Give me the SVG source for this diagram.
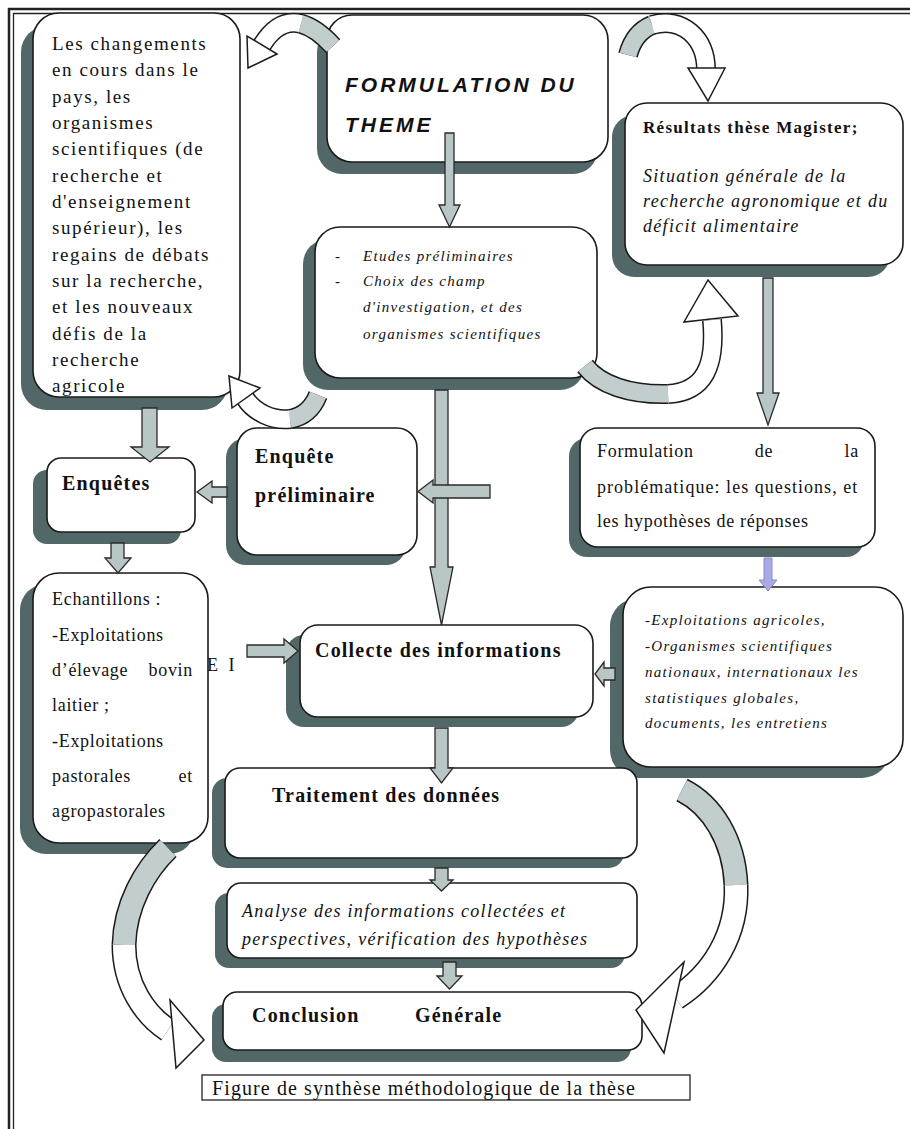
<svg xmlns="http://www.w3.org/2000/svg" width="910" height="1129" viewBox="0 0 910 1129">
<style>
.sh{fill:#526868}
.bx{fill:#fff;stroke:#1a1a1a;stroke-width:1.6}
.ar{fill:#b9c6c6;stroke:#2a2a2a;stroke-width:1.3;stroke-linejoin:miter}
.arl{fill:#a9a9e6;stroke:#8a8ac8;stroke-width:1}
.bo{fill:none;stroke:#1c1c1c;stroke-width:20}
.bg{fill:none;stroke:#c2cdcd;stroke-width:17}
.bw{fill:none;stroke:#fff;stroke-width:17}
.bo2{fill:none;stroke:#1c1c1c;stroke-width:25}
.bg2{fill:none;stroke:#c2cdcd;stroke-width:22}
.bw2{fill:none;stroke:#fff;stroke-width:22}
.hw{fill:#fff;stroke:#1c1c1c;stroke-width:1.5;stroke-linejoin:miter}
.s{font-family:"Liberation Serif","Times New Roman",serif;fill:#111}
.a{font-size:19px;letter-spacing:1.6px}
.g{font-size:18px;letter-spacing:0.7px}
.b{font-size:20px;font-weight:bold;letter-spacing:1.2px}
.i15{font-size:15px;font-style:italic;letter-spacing:1.3px}
.i18{font-size:18px;font-style:italic;letter-spacing:1.3px}
.ti{font-family:"Liberation Sans",Arial,sans-serif;font-size:21px;font-style:italic;font-weight:bold;letter-spacing:3px;fill:#111}
</style>
<rect width="910" height="1129" fill="#fff"/>
<g id="frame" fill="none" stroke="#222">
<path d="M9 1140 V9 H920" stroke-width="2.5"/>
<path d="M13.5 1140 V13.5 H920" stroke-width="1.3"/>
</g>

<g id="node-changements">
<rect class="sh" x="21" y="26" width="207" height="384" rx="26"/>
<rect class="bx" x="33" y="13" width="207" height="384" rx="26"/>
<text class="s a" x="52" y="50">Les changements</text>
<text class="s a" x="52" y="76">en cours dans le</text>
<text class="s a" x="52" y="103">pays, les</text>
<text class="s a" x="52" y="129">organismes</text>
<text class="s a" x="52" y="155">scientifiques (de</text>
<text class="s a" x="52" y="182">recherche et</text>
<text class="s a" x="52" y="208">d'enseignement</text>
<text class="s a" x="52" y="234">supérieur), les</text>
<text class="s a" x="52" y="261">regains de débats</text>
<text class="s a" x="52" y="287">sur la recherche,</text>
<text class="s a" x="52" y="313">et les nouveaux</text>
<text class="s a" x="52" y="340">défis de la</text>
<text class="s a" x="52" y="366">recherche</text>
<text class="s a" x="52" y="392">agricole</text>
</g>

<g id="node-formulation">
<rect class="sh" x="317" y="27" width="281" height="147" rx="25"/>
<rect class="bx" x="327" y="15" width="281" height="147" rx="25"/>
<text class="ti" x="345" y="92">FORMULATION DU</text>
<text class="ti" x="345" y="132">THEME</text>
</g>

<g id="node-etudes">
<rect class="sh" x="303" y="239" width="282" height="151" rx="25"/>
<rect class="bx" x="315" y="227" width="282" height="151" rx="25"/>
<text class="s i15" x="335" y="261">-</text>
<text class="s i15" x="335" y="286">-</text>
<text class="s i15" x="363" y="261">Etudes préliminaires</text>
<text class="s i15" x="363" y="286">Choix des champ</text>
<text class="s i15" x="363" y="312">d'investigation, et des</text>
<text class="s i15" x="363" y="339">organismes scientifiques</text>
</g>

<g id="node-magister">
<rect class="sh" x="612" y="115" width="278" height="162" rx="22"/>
<rect class="bx" x="625" y="103" width="278" height="162" rx="22"/>
<text class="s" x="643" y="133" font-size="17" font-weight="bold" letter-spacing="1.3">Résultats thèse Magister;</text>
<text class="s i18" x="643" y="182" letter-spacing="1.4">Situation générale de la</text>
<text class="s i18" x="643" y="207" letter-spacing="1.4">recherche agronomique et du</text>
<text class="s i18" x="643" y="232" letter-spacing="1.4">déficit alimentaire</text>
</g>

<g id="node-enquetes">
<rect class="sh" x="33" y="470" width="148" height="74" rx="14"/>
<rect class="bx" x="47" y="458" width="148" height="74" rx="14"/>
<text class="s b" x="62" y="490">Enquêtes</text>
</g>

<g id="node-enquete-preliminaire">
<rect class="sh" x="226" y="438" width="180" height="127" rx="20"/>
<rect class="bx" x="237" y="428" width="180" height="127" rx="20"/>
<text class="s b" x="255" y="463">Enquête</text>
<text class="s b" x="255" y="502">préliminaire</text>
</g>

<g id="node-problematique">
<rect class="sh" x="569" y="438" width="295" height="119" rx="18"/>
<rect class="bx" x="580" y="428" width="295" height="119" rx="18"/>
<text class="s g" x="597" y="457" letter-spacing="0.8">Formulation</text>
<text class="s g" x="764" y="457" text-anchor="middle">de</text>
<text class="s g" x="859" y="457" text-anchor="end">la</text>
<text class="s g" x="597" y="493" textLength="261" lengthAdjust="spacing">problématique: les questions, et</text>
<text class="s g" x="597" y="527" letter-spacing="0.8">les hypothèses de réponses</text>
</g>

<g id="node-echantillons">
<rect class="sh" x="20" y="584" width="175" height="270" rx="26"/>
<rect class="bx" x="33" y="573" width="175" height="270" rx="26"/>
<text class="s g" x="52" y="605">Echantillons :</text>
<text class="s g" x="52" y="641">-Exploitations</text>
<text class="s g" x="52" y="676">d’élevage</text>
<text class="s g" x="193" y="676" text-anchor="end">bovin</text>
<text class="s g" x="52" y="711">laitier ;</text>
<text class="s g" x="52" y="747">-Exploitations</text>
<text class="s g" x="52" y="782">pastorales</text>
<text class="s g" x="193" y="782" text-anchor="end">et</text>
<text class="s g" x="52" y="817">agropastorales</text>
</g>

<g id="label-ei">
<text class="s" x="207" y="671" font-size="18" letter-spacing="3">E I</text>
</g>

<g id="node-collecte">
<rect class="sh" x="286" y="635" width="293" height="92" rx="18"/>
<rect class="bx" x="300" y="625" width="293" height="92" rx="18"/>
<text class="s b" x="315" y="657">Collecte des informations</text>
</g>

<g id="node-sources">
<rect class="sh" x="610" y="598" width="280" height="180" rx="28"/>
<rect class="bx" x="623" y="587" width="280" height="180" rx="28"/>
<text class="s i15" x="645" y="625" letter-spacing="1.6">-Exploitations agricoles,</text>
<text class="s i15" x="645" y="651" letter-spacing="1.6">-Organismes scientifiques</text>
<text class="s i15" x="645" y="677" letter-spacing="1.6">nationaux, internationaux les</text>
<text class="s i15" x="645" y="703" letter-spacing="1.6">statistiques globales,</text>
<text class="s i15" x="645" y="728" letter-spacing="1.6">documents, les entretiens</text>
</g>

<g id="node-traitement">
<rect class="sh" x="212" y="778" width="412" height="90" rx="15"/>
<rect class="bx" x="225" y="768" width="412" height="90" rx="15"/>
<text class="s b" x="272" y="802" letter-spacing="1.3">Traitement des données</text>
</g>

<g id="node-analyse">
<rect class="sh" x="215" y="893" width="410" height="75" rx="14"/>
<rect class="bx" x="227" y="883" width="410" height="75" rx="14"/>
<text class="s i18" x="242" y="917" letter-spacing="1.2">Analyse des informations collectées et</text>
<text class="s i18" x="242" y="945" letter-spacing="1.2">perspectives, vérification des hypothèses</text>
</g>

<g id="node-conclusion">
<rect class="sh" x="212" y="1004" width="419" height="58" rx="14"/>
<rect class="bx" x="223" y="992" width="419" height="58" rx="14"/>
<text class="s b" x="252" y="1022">Conclusion</text>
<text class="s b" x="415" y="1022">Générale</text>
</g>

<g id="caption">
<rect x="202" y="1075" width="488" height="25" fill="none" stroke="#222" stroke-width="1.3"/>
<text class="s" x="212" y="1095" font-size="20" letter-spacing="1.1">Figure de synthèse méthodologique de la thèse</text>
</g>

<g id="connectors">
<!-- straight block arrows -->
<polygon class="ar" points="445,133 454,133 454,205 460,205 449.5,227 439,205 445,205"/>
<polygon class="ar" points="142,408 157,408 157,447 169,447 150,462 131,447 142,447"/>
<polygon class="ar" points="111,543 124,543 124,558 131,558 118,573 105,558 111,558"/>
<polygon class="ar" points="227,487 212,487 212,481 197,492 212,503 212,497 227,497"/>
<polygon class="ar" points="435,390 448,390 448,567 453,567 441.5,625 430,567 435,567"/>
<polygon class="ar" points="490,485 433,485 433,480 418,491.5 433,503 433,498 490,498"/>
<polygon class="ar" points="763,278 773,278 773,393 779,393 768,425 757,393 763,393"/>
<polygon class="arl" points="764,558 772,558 772,580 777,580 768,591 759,580 764,580"/>
<polygon class="ar" points="615,668 604,668 604,662 595,674 604,686 604,680 615,680"/>
<polygon class="ar" points="247,645 284,645 284,639 298,651 284,663 284,657 247,657"/>
<polygon class="ar" points="435,728 448,728 448,768 453,768 441.5,783 430,768 435,768"/>
<polygon class="ar" points="435,868 448,868 448,880 453,880 441.5,891 430,880 435,880"/>
<polygon class="ar" points="443,962 456,962 456,976 462,976 449.5,989 437,976 443,976"/>
<!-- curved arrows -->
<g id="curve-theme-to-changements">
<path class="bo" d="M333 46 Q315.8 27.6 301 23.8"/>
<path class="bo" d="M301 23.8 Q278.8 18 262 45"/>
<path class="bg" d="M333 46 Q315.8 27.6 301 23.8"/>
<path class="bw" d="M301 23.8 Q278.8 18 262 45"/>
<polygon class="hw" points="277,54 248,68 247,36"/>
</g>
<g id="curve-etudes-to-changements">
<path class="bo" d="M318 395 C312 410 302 417 290 419"/>
<path class="bo" d="M290 419 C272 421 254 412 245 398"/>
<path class="bg" d="M318 395 C312 410 302 417 290 419"/>
<path class="bw" d="M290 419 C272 421 254 412 245 398"/>
<polygon class="hw" points="260,388 229,376 232,408"/>
</g>
<g id="curve-theme-to-magister">
<path class="bo" d="M628 55 C632 40 640 30 652 25"/>
<path class="bo" d="M652 25 C682 16 706 38 706 70"/>
<path class="bg" d="M628 55 C632 40 640 30 652 25"/>
<path class="bw" d="M652 25 C682 16 706 38 706 70"/>
<polygon class="hw" points="688,68 725,68 708,101"/>
</g>
<g id="curve-etudes-to-magister">
<path class="bo" d="M585 366 C600 385 630 395 668 394"/>
<path class="bo" d="M668 394 C705 392 716 365 712 320"/>
<path class="bg" d="M585 366 C600 385 630 395 668 394"/>
<path class="bw" d="M668 394 C705 392 716 365 712 320"/>
<polygon class="hw" points="684,322 708,280 738,316"/>
</g>
<g id="curve-echantillons-to-conclusion">
<path class="bo2" d="M168 848 C145 870 125 905 124 945"/>
<path class="bo2" d="M124 945 C124 985 145 1015 168 1030"/>
<path class="bg2" d="M168 848 C145 870 125 905 124 945"/>
<path class="bw2" d="M124 945 C124 985 145 1015 168 1030"/>
<polygon class="hw" points="170,1000 204,1040 176,1068"/>
</g>
<g id="curve-sources-to-conclusion">
<path class="bo2" d="M682 790 C712 805 734 840 736 885"/>
<path class="bo2" d="M736 885 C738 935 712 975 676 998"/>
<path class="bg2" d="M682 790 C712 805 734 840 736 885"/>
<path class="bw2" d="M736 885 C738 935 712 975 676 998"/>
<polygon class="hw" points="684,962 636,1010 664,1053"/>
</g>
</g>
</svg>
